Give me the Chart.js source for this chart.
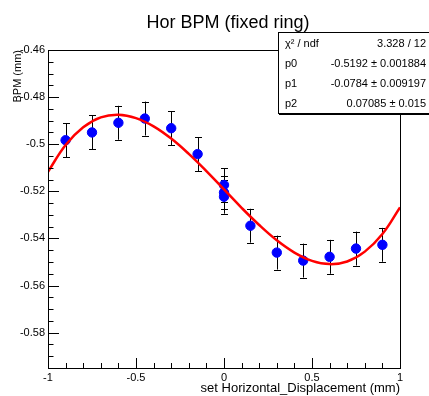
<!DOCTYPE html>
<html>
<head>
<meta charset="utf-8">
<script src="https://cdn.jsdelivr.net/npm/chart.js@4.4.0/dist/chart.umd.min.js"></script>
<style>
  html, body { margin: 0; padding: 0; background: #fff; }
  canvas { display: block; }
</style>
</head>
<body>
<canvas id="bpmChart" width="429" height="396"></canvas>
<script>
    // measured points
    const setX = [-0.9, -0.75, -0.6, -0.45, -0.3, -0.15, 0, 0, 0, 0.15, 0.3, 0.45, 0.6, 0.75, 0.9];
    const bpmY = [-0.4983, -0.4950, -0.4909, -0.4891, -0.4932, -0.5042, -0.5173, -0.5205, -0.5223,
                  -0.5346, -0.5460, -0.5494, -0.5478, -0.5443, -0.5427];
    const bpmErr = [0.0072, 0.0072, 0.0072, 0.0072, 0.0072, 0.0072, 0.0072, 0.0072, 0.0072,
                    0.0072, 0.0072, 0.0072, 0.0072, 0.0072, 0.0072];

    // fitted curve
    const fitX = [-1, -0.9, -0.8, -0.7, -0.6, -0.5, -0.4, -0.3, -0.2, -0.1, 0,
                  0.1, 0.2, 0.3, 0.4, 0.5, 0.6, 0.7, 0.8, 0.9, 1];
    const fitY = [-0.5117, -0.5003, -0.4928, -0.4886, -0.4875, -0.4889, -0.4924, -0.4976, -0.5041, -0.5114, -0.5192,
                  -0.5270, -0.5343, -0.5408, -0.5460, -0.5495, -0.5509, -0.5498, -0.5456, -0.5381, -0.5268];

    // axis ticks
    const xTicks = [-1, -0.5, 0, 0.5, 1];
    const yTicks = [-0.58, -0.56, -0.54, -0.52, -0.5, -0.48, -0.46];

    // stats box
    const statNames = ['χ² / ndf', 'p0', 'p1', 'p2'];
    const statValues = ['3.328 / 12', '-0.5192 ± 0.001884', '-0.0784 ± 0.009197', '0.07085 ± 0.015'];

    const FONT = '"Liberation Sans", Arial, Helvetica, sans-serif';

    const rootFrame = {
        id: 'rootFrame',
        beforeDatasetsDraw(chart) {
            // error bars
            const ctx = chart.ctx, xs = chart.scales.x, ys = chart.scales.y;
            ctx.save();
            ctx.strokeStyle = '#000';
            ctx.lineWidth = 1;
            setX.forEach((x, i) => {
                const px = Math.round(xs.getPixelForValue(x)) + 0.5;
                const top = ys.getPixelForValue(bpmY[i] + bpmErr[i]);
                const bot = ys.getPixelForValue(bpmY[i] - bpmErr[i]);
                ctx.beginPath();
                ctx.moveTo(px, top); ctx.lineTo(px, bot);
                ctx.moveTo(px - 3.5, Math.round(top) + 0.5); ctx.lineTo(px + 3.5, Math.round(top) + 0.5);
                ctx.moveTo(px - 3.5, Math.round(bot) + 0.5); ctx.lineTo(px + 3.5, Math.round(bot) + 0.5);
                ctx.stroke();
            });
            ctx.restore();
        },
        afterDraw(chart) {
            const ctx = chart.ctx, a = chart.chartArea;
            const xs = chart.scales.x, ys = chart.scales.y;
            ctx.save();
            ctx.strokeStyle = '#000';
            ctx.lineWidth = 1;
            ctx.strokeRect(Math.round(a.left) + 0.5, Math.round(a.top) + 0.5,
                           Math.round(a.right - a.left), Math.round(a.bottom - a.top));

            // y ticks (inside, left side)
            ctx.beginPath();
            for (let k = 0; k <= 27; k++) {
                const v = -0.46 - k * 0.005;
                if (v < ys.min) break;
                const py = Math.round(ys.getPixelForValue(v)) + 0.5;
                const major = k % 4 === 0;
                ctx.moveTo(a.left, py);
                ctx.lineTo(a.left + (major ? 11 : 5.5), py);
            }
            // x ticks (inside, bottom)
            for (let k = 0; k <= 20; k++) {
                const v = -1 + k * 0.1;
                const px = Math.round(xs.getPixelForValue(v)) + 0.5;
                const major = k % 5 === 0;
                ctx.moveTo(px, a.bottom);
                ctx.lineTo(px, a.bottom - (major ? 10 : 5));
            }
            ctx.stroke();

            // title
            ctx.fillStyle = '#000';
            ctx.font = '18px ' + FONT;
            ctx.textAlign = 'center';
            ctx.textBaseline = 'alphabetic';
            ctx.fillText('Hor BPM (fixed ring)', 228, 28);

            // stats box
            ctx.fillStyle = '#fff';
            ctx.fillRect(278, 32, 160, 81);
            ctx.strokeRect(278.5, 32.5, 160, 81);
            ctx.beginPath();
            ctx.moveTo(279, 114.5); ctx.lineTo(429, 114.5);
            ctx.stroke();
            ctx.fillStyle = '#000';
            ctx.font = '11px ' + FONT;
            ctx.textBaseline = 'middle';
            statNames.forEach((n, i) => {
                const y = 43.5 + i * 20;
                ctx.textAlign = 'left';
                ctx.fillText(n, 285, y);
                ctx.textAlign = 'right';
                ctx.fillText(statValues[i], 426, y);
            });
            ctx.restore();
        }
    };

    const data = {
        datasets: [{
            label: 'BPM',
            data: setX.map((x, i) => ({ x: x, y: bpmY[i] })),
            backgroundColor: '#0000ff',
            borderColor: '#0000ff',
            pointRadius: 4.7,
            borderWidth: 1,
            showLine: false,
            order: 2
        }, {
            label: 'fit',
            data: fitX.map((x, i) => ({ x: x, y: fitY[i] })),
            borderColor: '#ff0000',
            borderWidth: 2.5,
            pointRadius: 0,
            showLine: true,
            tension: 0.4,
            order: 1
        }]
    };

    const config = {
        type: 'scatter',
        data: data,
        options: {
            responsive: false,
            animation: false,
            devicePixelRatio: 1,
            layout: { padding: { top: 50, right: 29, left: 0, bottom: 0 } },
            plugins: { legend: { display: false }, tooltip: { enabled: false } },
            scales: {
                x: {
                    type: 'linear',
                    min: -1,
                    max: 1,
                    afterBuildTicks: s => { s.ticks = xTicks.map(v => ({ value: v })); },
                    afterFit: s => { s.height = 28; },
                    grid: { display: false, drawTicks: false },
                    border: { display: false },
                    ticks: {
                        color: '#000', font: { family: FONT, size: 11 }, padding: 3, maxRotation: 0,
                        callback: v => String(v)
                    },
                    title: {
                        display: true,
                        text: 'set Horizontal_Displacement (mm)',
                        align: 'end',
                        color: '#000',
                        font: { family: FONT, size: 13 },
                        padding: { top: 0, bottom: 0 }
                    }
                },
                y: {
                    type: 'linear',
                    min: -0.595,
                    max: -0.46,
                    afterBuildTicks: s => { s.ticks = yTicks.map(v => ({ value: v })); },
                    afterFit: s => { s.width = 48; },
                    grid: { display: false, drawTicks: false },
                    border: { display: false },
                    ticks: {
                        color: '#000', font: { family: FONT, size: 11 }, padding: 3,
                        callback: v => String(v)
                    },
                    title: {
                        display: true,
                        text: 'BPM (mm)',
                        align: 'end',
                        color: '#000',
                        font: { family: FONT, size: 11 },
                        padding: { top: 11, bottom: 0 }
                    }
                }
            }
        },
        plugins: [rootFrame]
    };

    const bpmChart = new Chart(document.getElementById('bpmChart').getContext('2d'), config);
</script>
</body>
</html>
